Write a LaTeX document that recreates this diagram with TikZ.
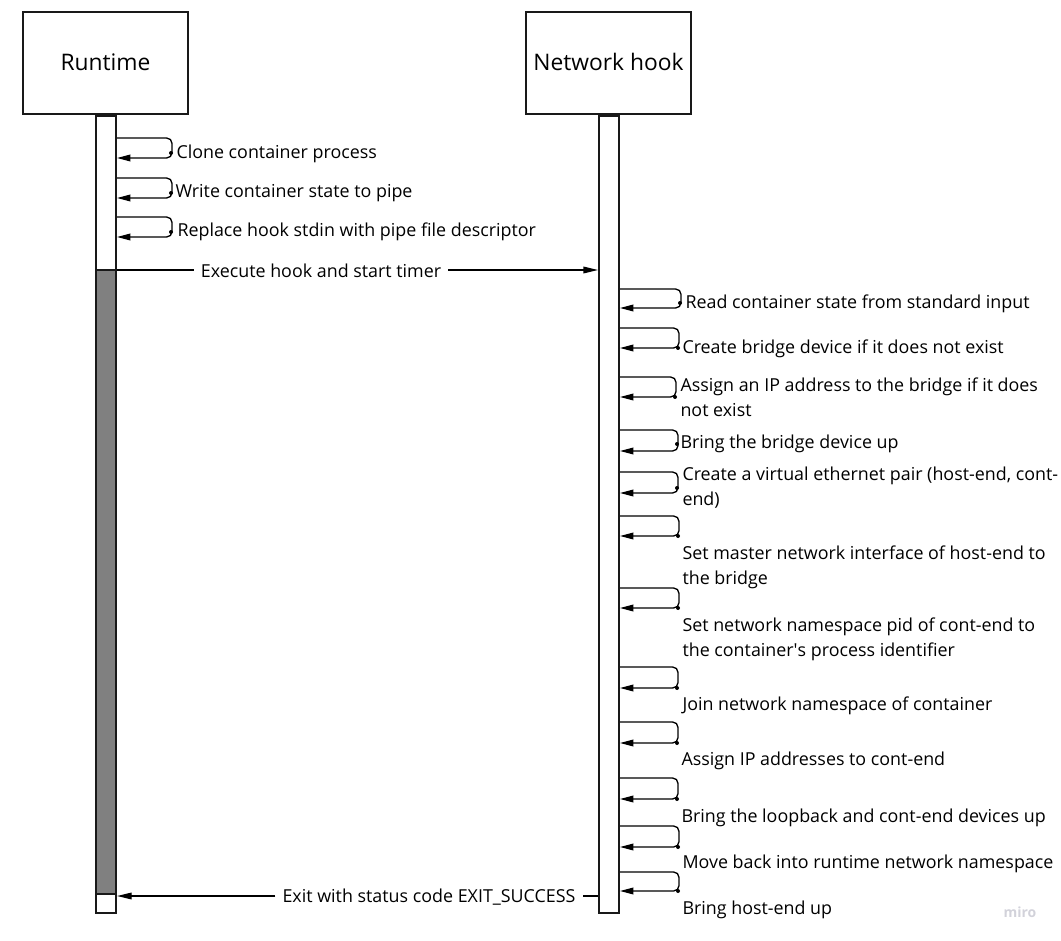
\documentclass[tikz,border=0pt]{standalone}
\usepackage{fontspec}
\setmainfont{Open Sans}
\usetikzlibrary{arrows.meta}

\tikzset{every picture/.style={line width=0.75pt}}

\begin{document}
\begin{tikzpicture}[x=0.75pt,y=0.75pt,yscale=-1,xscale=1,
	actor/.style={draw=black!90, line width=1.5pt, fill=white, minimum width=123.75pt, minimum height=76.5pt, inner sep=0pt, font=\fontsize{17.1}{20}\selectfont},
	lifebar/.style={draw=black!90, line width=1.5pt, fill=white, minimum width=15pt, inner sep=0pt},
	selfloop/.style={line width=1pt, rounded corners=4pt, -{Triangle[length=10pt,width=5pt]}, to path={-- ++(#1,0) |- (\tikztotarget)}},
	msg/.style={line width=1pt},
	msgtip/.style={msg, -{Triangle[length=11pt,width=5pt]}},
	lbl/.style={anchor=west, inner sep=0pt, align=left, font=\fontsize{13.4}{18.75}\selectfont},
	dot/.style={fill=black}]
	\useasboundingbox (0,0) rectangle (1061,941);

	% Actors
	\node[actor] (rt) at (105.5,63) {\raisebox{1.5pt}{Runtime}};
	\node[actor] (nh) at (608.5,63) {\raisebox{1.5pt}{Network hook}};

	% Lifelines
	\node[lifebar, minimum height=597pt] (rtbar) at (106,514.5) {};
	\draw[line width=1.5pt, draw=black!90, fill=gray] (96,270) rectangle (116,894);
	\node[lifebar, minimum height=597pt] (nhbar) at (609,514.5) {};

	%Self loops: Runtime
	\draw[selfloop=55] (rtbar.east |- 0,138) to (rtbar.east |- 0,158);
	\fill[dot] (171,153) circle (2);
	\node[lbl] (clone) at (176,154) {Clone container process};
	\draw[selfloop=55] (rtbar.east |- 0,178) to (rtbar.east |- 0,198);
	\fill[dot] (171,193) circle (2);
	\node[lbl] (write) at (175,193) {Write container state to pipe};
	\draw[selfloop=55] (rtbar.east |- 0,217) to (rtbar.east |- 0,237);
	\fill[dot] (171,232) circle (2);
	\node[lbl] (replace) at (177,232) {Replace hook stdin with pipe file descriptor};

	% Message: execute
	\node[lbl, anchor=center, inner sep=5pt] (exec) at (321,271) {Execute hook and start timer};
	\draw[msg] (rtbar.east |- 0,270) -- (exec.west |- 0,270);
	\draw[msgtip] (exec.east |- 0,270) -- (nhbar.west |- 0,270);

	%Self loops: Network hook
	\draw[selfloop=61] (nhbar.east |- 0,289) to (nhbar.east |- 0,308);
	\fill[dot] (680,303) circle (2);
	\node[lbl] (read) at (685,304) {Read container state from standard input};
	\draw[selfloop=59] (nhbar.east |- 0,328) to (nhbar.east |- 0,348);
	\fill[dot] (678,348) circle (2);
	\node[lbl] (bridge) at (682,349) {Create bridge device if it does not exist};
	\draw[selfloop=56] (nhbar.east |- 0,377) to (nhbar.east |- 0,397);
	\fill[dot] (675,397) circle (2);
	\node[lbl] (assignip) at (680,397.5) {Assign an IP address to the bridge if it does\\not exist};
	\draw[selfloop=58] (nhbar.east |- 0,430) to (nhbar.east |- 0,451);
	\fill[dot] (677,444) circle (2);
	\node[lbl] (bridgeup) at (680,444) {Bring the bridge device up};
	\draw[selfloop=58] (nhbar.east |- 0,472) to (nhbar.east |- 0,493);
	\fill[dot] (677,488) circle (2);
	\node[lbl] (veth) at (682,488) {Create a virtual ethernet pair (host-end, cont-\\end)};
	\draw[selfloop=59] (nhbar.east |- 0,516) to (nhbar.east |- 0,536);
	\fill[dot] (678,536) circle (2);
	\node[lbl] (master) at (682,567) {Set master network interface of host-end to\\the bridge};
	\draw[selfloop=59] (nhbar.east |- 0,588) to (nhbar.east |- 0,608);
	\fill[dot] (678,608) circle (2);
	\node[lbl] (netns) at (682,639.5) {Set network namespace pid of cont-end to\\the container\textquotesingle s process identifier};
	\draw[selfloop=58] (nhbar.east |- 0,667) to (nhbar.east |- 0,688);
	\fill[dot] (677,688) circle (2);
	\node[lbl] (join) at (682,706) {Join network namespace of container};
	\draw[selfloop=58] (nhbar.east |- 0,722) to (nhbar.east |- 0,743);
	\fill[dot] (677,743) circle (2);
	\node[lbl] (assignaddr) at (681,761) {Assign IP addresses to cont-end};
	\draw[selfloop=58] (nhbar.east |- 0,778) to (nhbar.east |- 0,799);
	\fill[dot] (677,799) circle (2);
	\node[lbl] (loup) at (681,818) {Bring the loopback and cont-end devices up};
	\draw[selfloop=59] (nhbar.east |- 0,826) to (nhbar.east |- 0,847);
	\fill[dot] (678,847) circle (2);
	\node[lbl] (moveback) at (682,864) {Move back into runtime network namespace};
	\draw[selfloop=59] (nhbar.east |- 0,872) to (nhbar.east |- 0,891);
	\fill[dot] (678,891) circle (2);
	\node[lbl] (hostup) at (682,910) {Bring host-end up};

	% Message: exit
	\node[lbl, anchor=center, inner sep=5pt] (exit) at (429,897) {Exit with status code EXIT\_SUCCESS};
	\draw[msg] (nhbar.west |- 0,896) -- (exit.east |- 0,896);
	\draw[msgtip] (exit.west |- 0,896) -- (rtbar.east |- 0,896);

	% Watermark
	\node[font=\fontsize{10.5}{12}\selectfont\bfseries, text={rgb,255:red,210;green,210;blue,218}] (miro) at (1020,912) {miro};
\end{tikzpicture}
\end{document}
